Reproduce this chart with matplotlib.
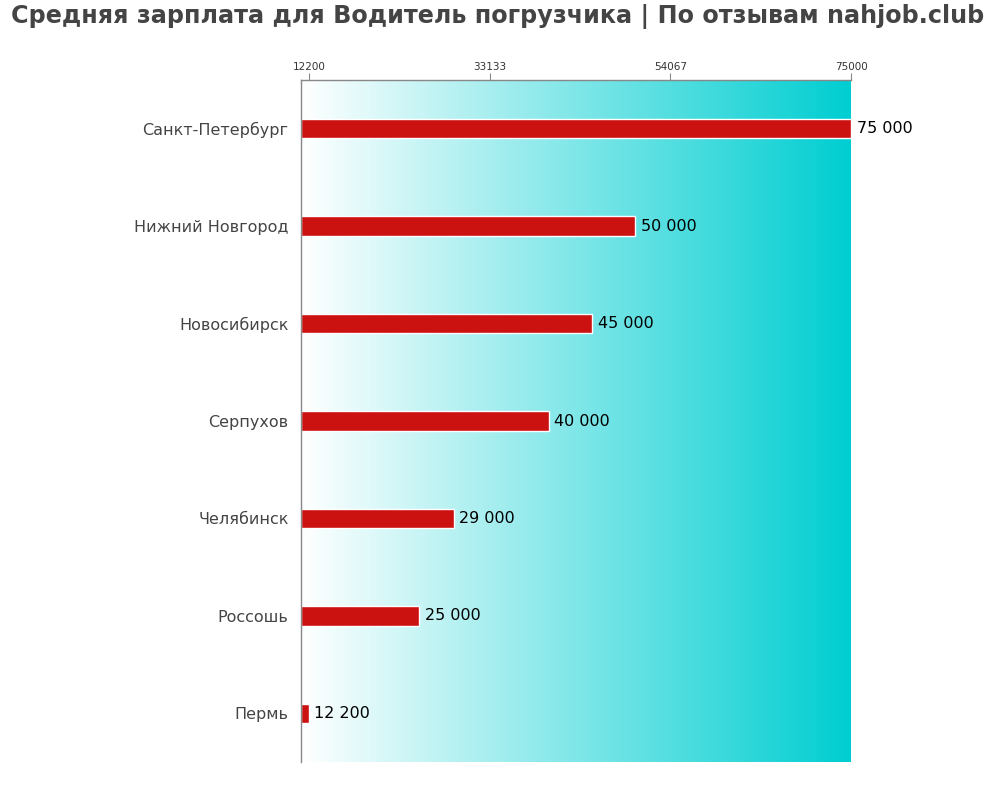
import numpy as np
import matplotlib
matplotlib.use('Agg')
import matplotlib.pyplot as plt
from matplotlib.colors import LinearSegmentedColormap

cities = ['Санкт-Петербург', 'Нижний Новгород', 'Новосибирск', 'Серпухов',
          'Челябинск', 'Россошь', 'Пермь']
salaries = [75000, 50000, 45000, 40000, 29000, 25000, 12200]
tick_values = [12200, 33133, 54067, 75000]
value_labels = ['75 000', '50 000', '45 000', '40 000', '29 000', '25 000', '12 200']

TITLE = 'Средняя зарплата для Водитель погрузчика | По отзывам nahjob.club'
X_LEFT = 11300
X_RIGHT = 75000

fig = plt.figure(figsize=(10, 8), dpi=100)
ax = fig.add_axes([0.301, 0.0475, 0.55, 0.8525])

# background gradient white -> turquoise
grad_cmap = LinearSegmentedColormap.from_list('bg', ['#ffffff', '#00ced1'])
grad = np.linspace(0, 1, 256).reshape(1, -1)
ax.imshow(grad, cmap=grad_cmap, aspect='auto',
          extent=[X_LEFT, X_RIGHT, len(cities) - 0.5, -0.5], zorder=0)

y = np.arange(len(cities))
ax.barh(y, [s - X_LEFT for s in salaries], left=X_LEFT, height=0.2,
        color='#cc1111', edgecolor='white', linewidth=1, zorder=2)

for yi, s, lab in zip(y, salaries, value_labels):
    ax.annotate(lab, xy=(s, yi), xytext=(4, 0), textcoords='offset points',
                va='center', ha='left', fontsize=11.5, color='black')

ax.set_xlim(X_LEFT, X_RIGHT)
ax.set_ylim(len(cities) - 0.5, -0.5)
ax.set_yticks(y)
ax.set_yticklabels(cities, fontsize=11.5, color='#444444')
ax.tick_params(axis='y', length=0, pad=9)

ax.xaxis.tick_top()
ax.set_xticks(tick_values)
ax.set_xticklabels([str(v) for v in tick_values], fontsize=7.5, color='#333333')
ax.tick_params(axis='x', length=5, color='#888888', pad=1)

for side in ['right', 'bottom']:
    ax.spines[side].set_visible(False)
for side in ['left', 'top']:
    ax.spines[side].set_color('#888888')
    ax.spines[side].set_linewidth(1)

fig.suptitle(TITLE, fontsize=17.2, fontweight='bold', color='#444444', x=0.498, y=0.995)

fig.savefig('out.png', dpi=100)
